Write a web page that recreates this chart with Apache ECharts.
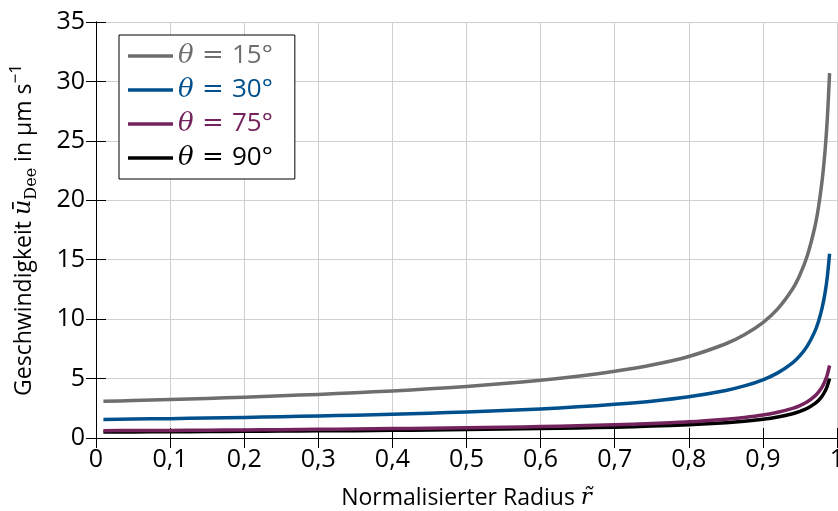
<!DOCTYPE html>
<html>
<head>
<meta charset="utf-8">
<script src="https://cdn.jsdelivr.net/npm/echarts@6/dist/echarts.min.js"></script>
<style>
  html, body {margin: 0; padding: 0; background: #fff;}
  #chart {width: 838px; height: 511px;}
</style>
</head>
<body>
<div id="chart"></div>
<script>
// normalised radius r~ (x) and velocity in um/s (y)
var radius  = [0.01, 0.05, 0.1, 0.15, 0.2, 0.25, 0.3, 0.35, 0.4, 0.45, 0.5, 0.55, 0.6, 0.65, 0.7, 0.75, 0.8, 0.85, 0.875, 0.9, 0.92, 0.94, 0.95, 0.96, 0.97, 0.975, 0.98, 0.984, 0.987, 0.99];
var theta15 = [3.09, 3.15, 3.24, 3.33, 3.43, 3.55, 3.67, 3.81, 3.96, 4.14, 4.34, 4.58, 4.85, 5.19, 5.61, 6.14, 6.86, 7.93, 8.68, 9.71, 10.86, 12.53, 13.73, 15.35, 17.73, 19.42, 21.71, 24.27, 26.93, 30.7];
var theta30 = [1.56, 1.59, 1.63, 1.68, 1.73, 1.79, 1.85, 1.92, 2.00, 2.09, 2.19, 2.31, 2.45, 2.62, 2.83, 3.10, 3.47, 4.00, 4.38, 4.90, 5.48, 6.33, 6.93, 7.75, 8.95, 9.80, 10.96, 12.25, 13.60, 15.5];
var theta75 = [0.61, 0.63, 0.64, 0.66, 0.68, 0.70, 0.73, 0.76, 0.79, 0.82, 0.86, 0.91, 0.96, 1.03, 1.11, 1.22, 1.36, 1.58, 1.73, 1.93, 2.16, 2.49, 2.73, 3.05, 3.52, 3.86, 4.31, 4.82, 5.35, 6.1];
var theta90 = [0.50, 0.51, 0.53, 0.54, 0.56, 0.58, 0.60, 0.62, 0.65, 0.67, 0.71, 0.75, 0.79, 0.85, 0.91, 1.00, 1.12, 1.29, 1.41, 1.58, 1.77, 2.04, 2.24, 2.50, 2.89, 3.16, 3.54, 3.95, 4.39, 5.0];

var angles = ['15', '30', '75', '90'];
var colors = ['#6e6e6e', '#00508e', '#74235c', '#000000'];

function pairs(values) {
  return radius.map(function (r, i) { return [r, values[i]]; });
}

var font = 'Open Sans';
var mathFont = 'DejaVu Serif';
var chart = echarts.init(document.getElementById('chart'), null, {renderer: 'canvas'});

function mkSeries(idx, values, z) {
  return {
    name: angles[idx], type: 'line', data: pairs(values), z: z,
    smooth: 0.25, showSymbol: false, symbol: 'none',
    lineStyle: {color: colors[idx], width: 3.5, join: 'round'}, itemStyle: {color: colors[idx]}
  };
}

// top and right frame lines with inward ticks
function frameAxis(extra) {
  return Object.assign({
    type: 'value',
    axisLine: {show: true, lineStyle: {color: '#000', width: 1}},
    axisTick: {show: true, inside: true, length: 10, lineStyle: {color: '#000'}},
    axisLabel: {show: false},
    splitLine: {show: false}
  }, extra);
}

chart.setOption({
  animation: false,
  backgroundColor: '#fff',
  grid: {left: 96, right: 1, top: 22, bottom: 73, outerBoundsMode: 'none', containLabel: false},
  legend: {
    left: 119, top: 35,
    orient: 'vertical',
    backgroundColor: '#fff',
    borderColor: '#000', borderWidth: 1,
    padding: [8, 22, 8, 9],
    itemWidth: 45, itemHeight: 14, itemGap: 8,
    icon: 'path://M0,5 L45,5 L45,8.5 L0,8.5 Z',
    data: angles.map(function (a, i) {
      return {name: a, itemStyle: {color: colors[i]}, textStyle: {color: colors[i]}};
    }),
    formatter: function (name) { return '{th|θ}{eq| = }' + name + '°'; },
    textStyle: {
      fontFamily: font, fontSize: 26,
      rich: {
        th: {fontFamily: mathFont, fontStyle: 'italic', fontSize: 26},
        eq: {fontFamily: mathFont, fontSize: 26}
      }
    }
  },
  xAxis: [{
    type: 'value', min: 0, max: 1, interval: 0.1,
    name: 'Normalisierter Radius {r|r̃}', nameLocation: 'middle', nameGap: 49,
    nameTextStyle: {
      fontFamily: font, fontSize: 23, color: '#000',
      rich: {r: {fontFamily: mathFont, fontStyle: 'italic', fontSize: 23, color: '#000'}}
    },
    axisLine: {lineStyle: {color: '#000', width: 1}},
    axisTick: {inside: true, length: 10, lineStyle: {color: '#000'}},
    axisLabel: {
      fontFamily: font, fontSize: 25, color: '#000', margin: 9,
      formatter: function (v) {
        if (v === 0 || v === 1) return String(v);
        return v.toFixed(1).replace('.', ',');
      }
    },
    splitLine: {show: true, lineStyle: {color: '#d0d0d0', width: 1}}
  }, frameAxis({position: 'top', min: 0, max: 1, interval: 0.1})],
  yAxis: [{
    type: 'value', min: 0, max: 35, interval: 5,
    name: 'Geschwindigkeit {u|ū}{sub|Dee} in µm s{sup|−1}', nameLocation: 'middle', nameGap: 56,
    nameTextStyle: {
      fontFamily: font, fontSize: 23, color: '#000', lineHeight: 32,
      rich: {
        u: {fontFamily: mathFont, fontStyle: 'italic', fontSize: 24, color: '#000', lineHeight: 32},
        sub: {fontFamily: mathFont, fontSize: 16, color: '#000', verticalAlign: 'bottom', lineHeight: 32},
        sup: {fontFamily: font, fontSize: 17, color: '#000', verticalAlign: 'top', lineHeight: 32}
      }
    },
    axisLine: {show: true, lineStyle: {color: '#000', width: 1}},
    axisTick: {show: true, inside: true, length: 10, lineStyle: {color: '#000'}},
    axisLabel: {fontFamily: font, fontSize: 25, color: '#000', margin: 11},
    splitLine: {show: true, lineStyle: {color: '#d0d0d0', width: 1}}
  }, frameAxis({position: 'right', min: 0, max: 35, interval: 5})],
  series: [
    mkSeries(0, theta15, 2),
    mkSeries(1, theta30, 3),
    mkSeries(3, theta90, 4),
    mkSeries(2, theta75, 5)
  ]
});
</script>
</body>
</html>
